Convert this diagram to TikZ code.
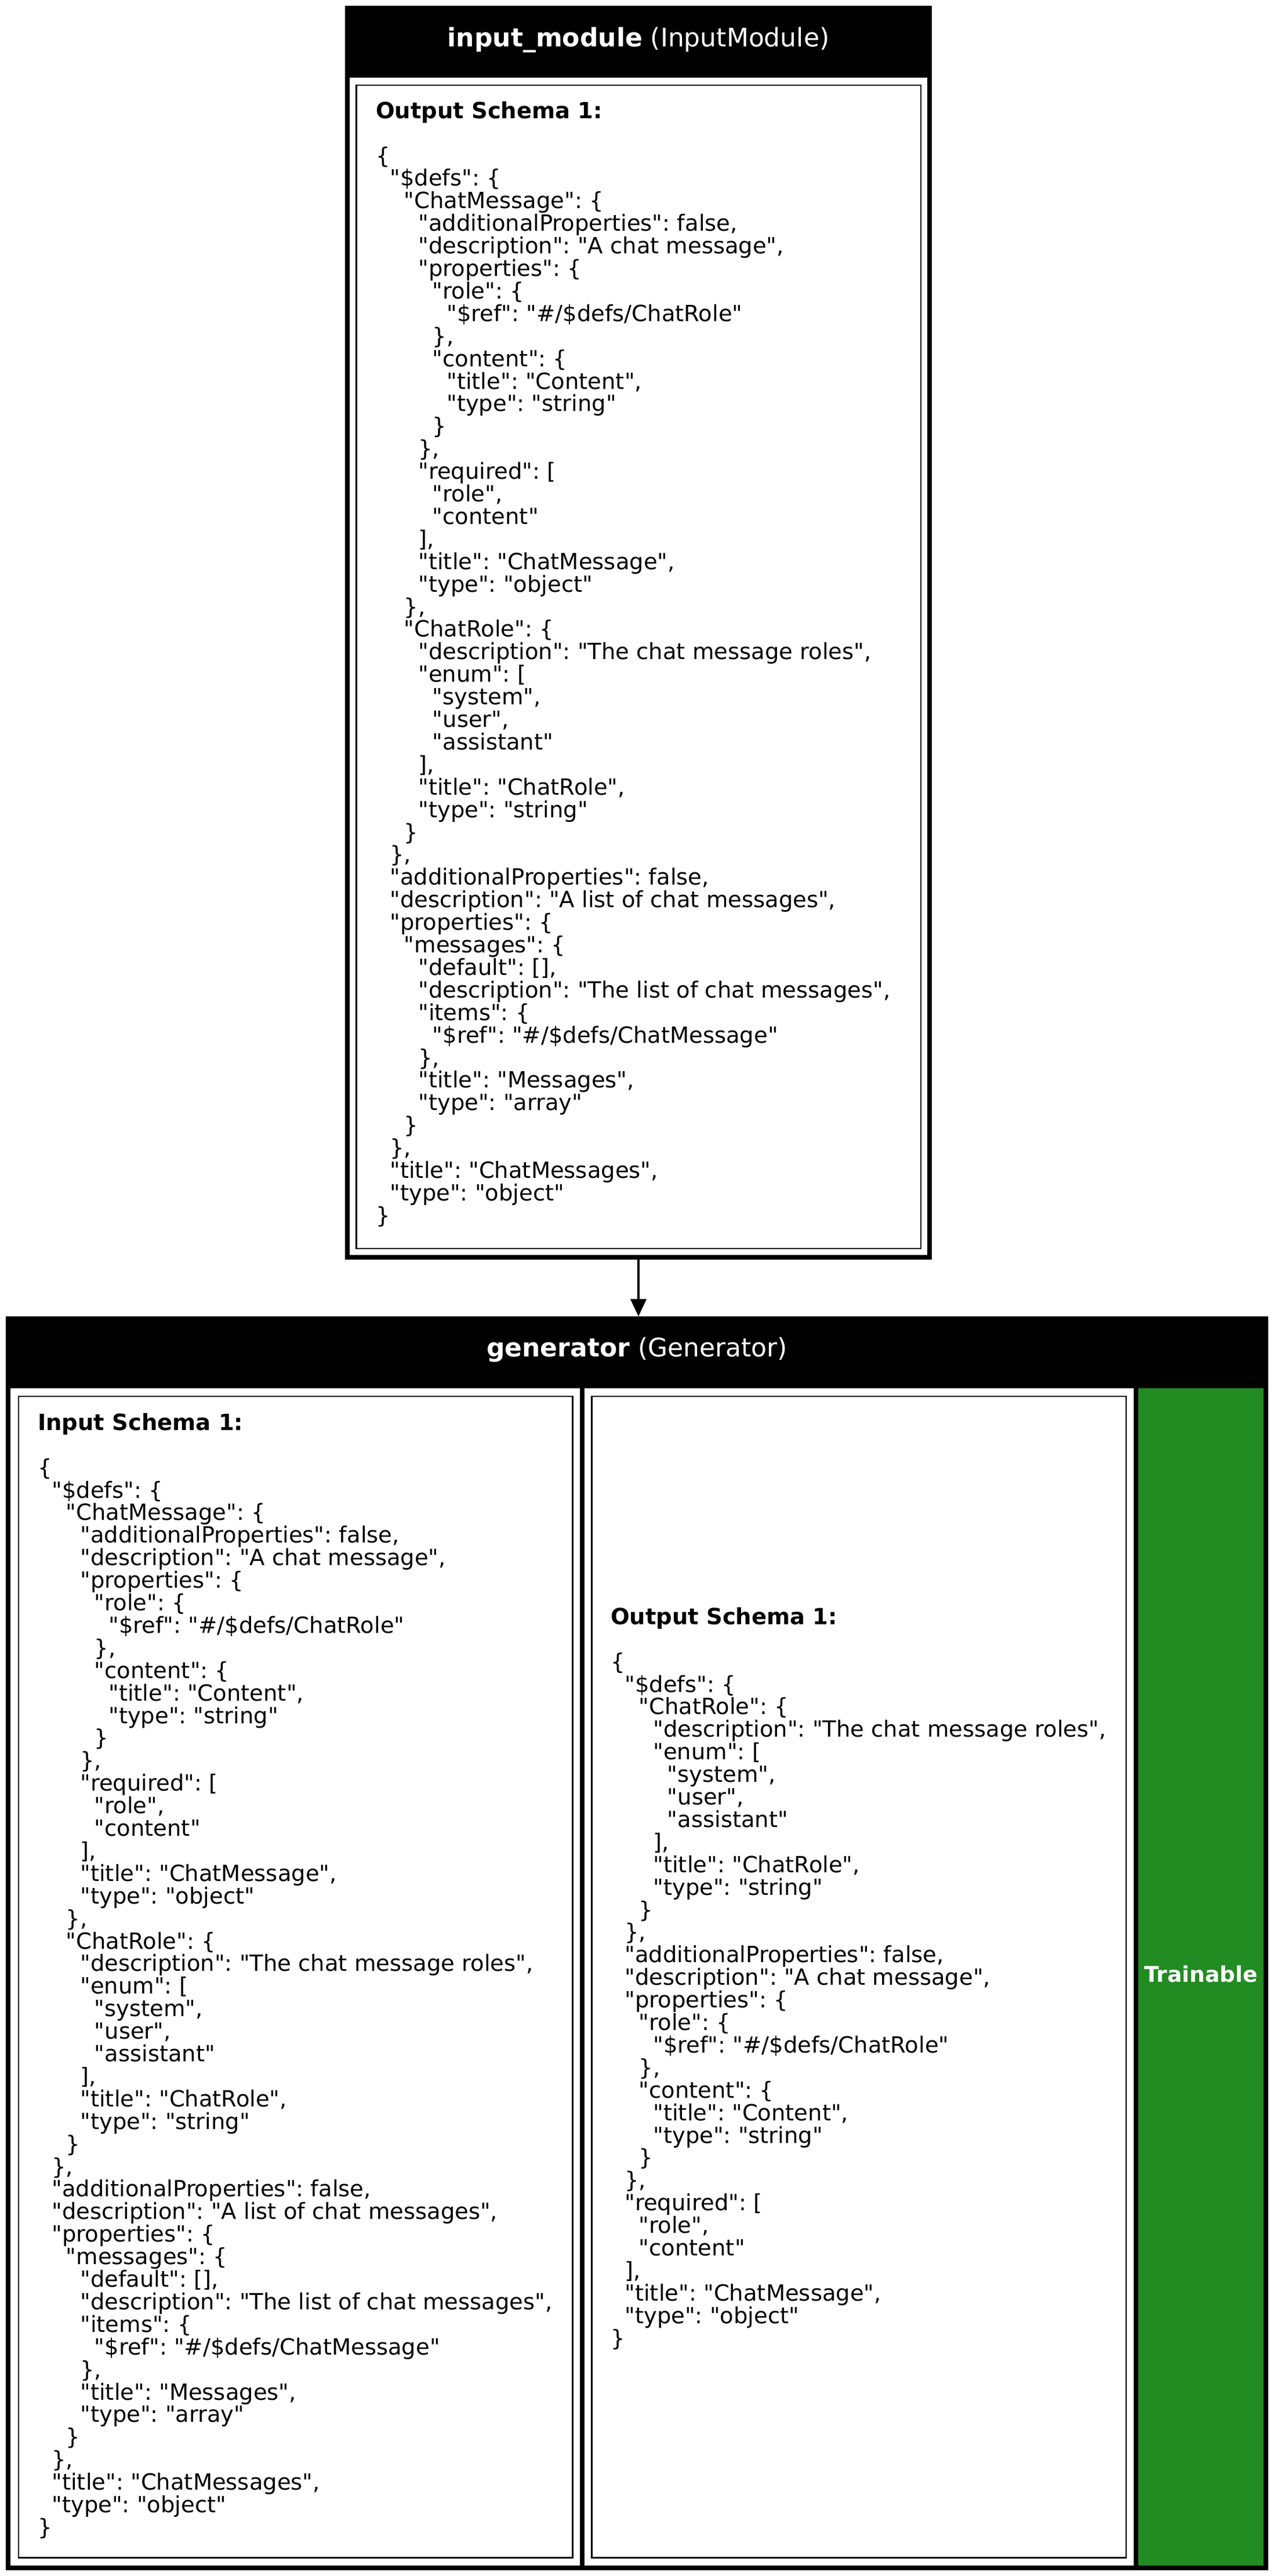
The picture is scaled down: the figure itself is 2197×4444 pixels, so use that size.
\documentclass[tikz,border=0pt]{standalone}
\usepackage{fontspec}
\setmainfont{DejaVu Sans}[Ligatures=TeXOff]
\usetikzlibrary{arrows.meta}
\definecolor{trainablegreen}{RGB}{34,139,34}
\frenchspacing

% Indent by n spaces
\newcommand{\jsonind}[1]{\hspace*{#1\fontdimen2\font}}

% Schema of ChatMessages
\newcommand{\chatmessagesjson}{%
\{\\
\jsonind{2}"\$defs": \{\\
\jsonind{4}"ChatMessage": \{\\
\jsonind{6}"additionalProperties": false,\\
\jsonind{6}"description": "A chat message",\\
\jsonind{6}"properties": \{\\
\jsonind{8}"role": \{\\
\jsonind{10}"\$ref": "\#/\$defs/ChatRole"\\
\jsonind{8}\},\\
\jsonind{8}"content": \{\\
\jsonind{10}"title": "Content",\\
\jsonind{10}"type": "string"\\
\jsonind{8}\}\\
\jsonind{6}\},\\
\jsonind{6}"required": [\\
\jsonind{8}"role",\\
\jsonind{8}"content"\\
\jsonind{6}],\\
\jsonind{6}"title": "ChatMessage",\\
\jsonind{6}"type": "object"\\
\jsonind{4}\},\\
\jsonind{4}"ChatRole": \{\\
\jsonind{6}"description": "The chat message roles",\\
\jsonind{6}"enum": [\\
\jsonind{8}"system",\\
\jsonind{8}"user",\\
\jsonind{8}"assistant"\\
\jsonind{6}],\\
\jsonind{6}"title": "ChatRole",\\
\jsonind{6}"type": "string"\\
\jsonind{4}\}\\
\jsonind{2}\},\\
\jsonind{2}"additionalProperties": false,\\
\jsonind{2}"description": "A list of chat messages",\\
\jsonind{2}"properties": \{\\
\jsonind{4}"messages": \{\\
\jsonind{6}"default": [],\\
\jsonind{6}"description": "The list of chat messages",\\
\jsonind{6}"items": \{\\
\jsonind{8}"\$ref": "\#/\$defs/ChatMessage"\\
\jsonind{6}\},\\
\jsonind{6}"title": "Messages",\\
\jsonind{6}"type": "array"\\
\jsonind{4}\}\\
\jsonind{2}\},\\
\jsonind{2}"title": "ChatMessages",\\
\jsonind{2}"type": "object"\\
\}}

% Schema of ChatMessage
\newcommand{\chatmessagejson}{%
\{\\
\jsonind{2}"\$defs": \{\\
\jsonind{4}"ChatRole": \{\\
\jsonind{6}"description": "The chat message roles",\\
\jsonind{6}"enum": [\\
\jsonind{8}"system",\\
\jsonind{8}"user",\\
\jsonind{8}"assistant"\\
\jsonind{6}],\\
\jsonind{6}"title": "ChatRole",\\
\jsonind{6}"type": "string"\\
\jsonind{4}\}\\
\jsonind{2}\},\\
\jsonind{2}"additionalProperties": false,\\
\jsonind{2}"description": "A chat message",\\
\jsonind{2}"properties": \{\\
\jsonind{4}"role": \{\\
\jsonind{6}"\$ref": "\#/\$defs/ChatRole"\\
\jsonind{4}\},\\
\jsonind{4}"content": \{\\
\jsonind{6}"title": "Content",\\
\jsonind{6}"type": "string"\\
\jsonind{4}\}\\
\jsonind{2}\},\\
\jsonind{2}"required": [\\
\jsonind{4}"role",\\
\jsonind{4}"content"\\
\jsonind{2}],\\
\jsonind{2}"title": "ChatMessage",\\
\jsonind{2}"type": "object"\\
\}}

\begin{document}
\begin{tikzpicture}[x=1pt,y=-1pt,
    every node/.style={inner sep=0pt,outer sep=0pt},
    modbox/.style={draw,line width=8pt,anchor=north west},
    header/.style={text=white,anchor=base,font=\fontsize{44}{50}\selectfont},
    schema/.style={anchor=north west,align=left,font=\fontsize{38.5}{38.9}\selectfont},
    cellbox/.style={draw,line width=2.5pt},
    flow/.style={line width=4pt,-{Triangle[length=30pt,width=27pt]}}]
\def\lineh{38.9pt}

% Macro for a schema cell
\newcommand{\schemacell}[7]{
    % Frame
    \draw[cellbox] (#1,#2) rectangle (#3,#4);
    % Text
    \node[schema] (#5) at (#6) {#7};
}

\fill[white] (0,0) rectangle (2197,4444);

% input_module
\node[modbox,minimum width=1004pt,minimum height=2155pt] (inputmod) at (599,14) {};
\fill (595,10) rectangle (1607,134);
\node[header] (inputmodtitle) at (1101,80) {\textbf{input\_module} (InputModule)};
\schemacell{614.5}{147}{1588}{2154}{inputmodout}{648,175}{\textbf{Output Schema 1:}\\[\lineh]\chatmessagesjson}

% generator
\node[modbox,minimum width=2169pt,minimum height=2155pt] (generator) at (14,2275) {};
\fill (10,2271) rectangle (2187,2395);
\fill (1000,2395) rectangle (1008,4426);
\fill (1955,2395) rectangle (1963,4426);
\fill[trainablegreen] (1963,2395) rectangle (2179,4426);
\node[header] (generatortitle) at (1098.5,2340) {\textbf{generator} (Generator)};
\schemacell{32}{2409}{987.5}{4412.5}{generatorin}{65,2438}{\textbf{Input Schema 1:}\\[\lineh]\chatmessagesjson}
\schemacell{1020.5}{2409}{1942}{4412.5}{generatorout}{1053,2773}{\textbf{Output Schema 1:}\\[\lineh]\chatmessagejson}
\node[text=white,font=\bfseries\fontsize{37.5}{40}\selectfont] (trainable) at (2071,3405) {Trainable};

% Connector
\draw[flow,shorten >=4pt] (inputmod.south) -- (inputmod.south |- generator.north);

\end{tikzpicture}
\end{document}
